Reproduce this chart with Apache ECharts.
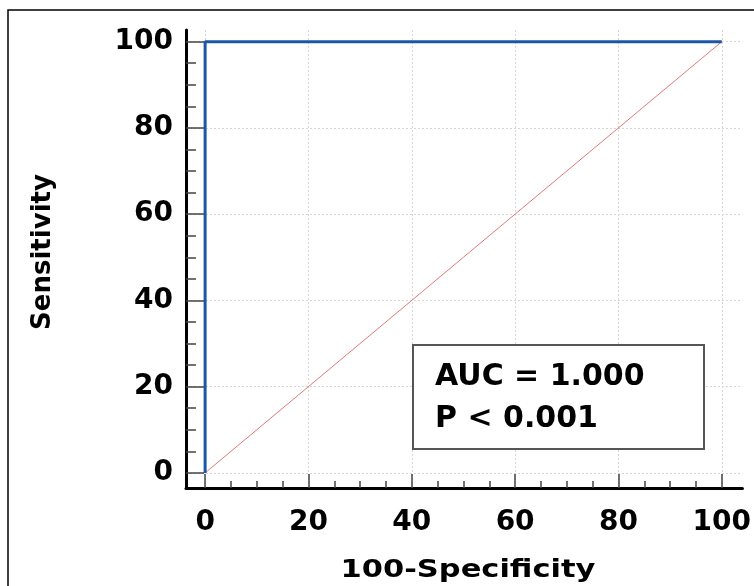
<!DOCTYPE html>
<html>
<head>
<meta charset="utf-8">
<script src="https://cdn.jsdelivr.net/npm/echarts@6/dist/echarts.min.js"></script>
<style>
html,body{margin:0;padding:0;background:#fff;}
#chart{width:754px;height:586px;}
</style>
</head>
<body>
<div id="chart"></div>
<script>
// ROC curve data (100-Specificity, Sensitivity)
const rocX = [0, 0, 100];
const rocY = [0, 100, 100];
// Reference diagonal
const diagX = [0, 100];
const diagY = [0, 100];
// Tick values
const xMajorTicks = [0, 20, 40, 60, 80, 100];
const yMajorTicks = [0, 20, 40, 60, 80, 100];
const xMinorTicks = [5, 10, 15, 25, 30, 35, 45, 50, 55, 65, 70, 75, 85, 90, 95];
const yMinorTicks = [5, 10, 15, 25, 30, 35, 45, 50, 55, 65, 70, 75, 85, 90, 95];
// Annotation text
const annotationLines = ['AUC = 1.000', 'P < 0.001'];
const xTitle = '100-Specificity';
const yTitle = 'Sensitivity';

const FONT = '"DejaVu Sans", "Liberation Sans", Arial, sans-serif';
const X_MIN = -3.7, X_MAX = 104;
const Y_MIN = -3.5, Y_MAX = 102.7;

const chart = echarts.init(document.getElementById('chart'), null, {renderer: 'canvas'});

function zip(a, b) { return a.map((v, i) => [v, b[i]]); }

const gridLine = {show: true, lineStyle: {color: '#d6d6d6', width: 1, type: [2, 2]}};

const option = {
  backgroundColor: '#fff',
  animation: false,
  grid: {left: 186, right: 8, top: 30, bottom: 98, containLabel: false},
  xAxis: [
    {
      type: 'value', min: X_MIN, max: X_MAX, position: 'bottom',
      axisLine: {show: true, onZero: false, lineStyle: {color: '#000', width: 3}},
      axisTick: {show: true, inside: true, length: 14, customValues: xMajorTicks,
                 lineStyle: {color: '#444', width: 1.5}},
      axisLabel: {show: true, customValues: xMajorTicks, margin: 21,
                  fontFamily: FONT, fontWeight: 'bold', fontSize: 28, color: '#000'},
      splitLine: gridLine,
      minorTick: {show: false}
    },
    {
      type: 'value', min: X_MIN, max: X_MAX, position: 'bottom',
      axisLine: {show: false, onZero: false},
      axisTick: {show: true, inside: true, length: 7, customValues: xMinorTicks,
                 lineStyle: {color: '#444', width: 1.5}},
      axisLabel: {show: false},
      splitLine: {show: false}
    }
  ],
  yAxis: [
    {
      type: 'value', min: Y_MIN, max: Y_MAX, position: 'left',
      axisLine: {show: true, onZero: false, lineStyle: {color: '#000', width: 3}},
      axisTick: {show: true, inside: true, length: 18, customValues: yMajorTicks,
                 lineStyle: {color: '#444', width: 1.5}},
      axisLabel: {show: true, customValues: yMajorTicks, margin: 13,
                  fontFamily: FONT, fontWeight: 'bold', fontSize: 28, color: '#000'},
      splitLine: gridLine
    },
    {
      type: 'value', min: Y_MIN, max: Y_MAX, position: 'left',
      axisLine: {show: false, onZero: false},
      axisTick: {show: true, inside: true, length: 10, customValues: yMinorTicks,
                 lineStyle: {color: '#444', width: 1.5}},
      axisLabel: {show: false},
      splitLine: {show: false}
    }
  ],
  series: [
    {
      type: 'line', name: 'Reference', data: zip(diagX, diagY),
      xAxisIndex: 0, yAxisIndex: 0, symbol: 'none', z: 3,
      lineStyle: {color: '#dc6a6a', width: 1, opacity: 0.9}
    },
    {
      type: 'line', name: 'ROC', data: zip(rocX, rocY),
      xAxisIndex: 0, yAxisIndex: 0, symbol: 'none', z: 4,
      lineStyle: {color: '#1c57a5', width: 3}
    }
  ],
  graphic: [
    {type: 'rect', z: 100, silent: true,
     shape: {x: 8, y: 10, width: 900, height: 900},
     style: {fill: 'none', stroke: '#000', lineWidth: 1.5}},
    {type: 'rect', z: 101, silent: true,
     shape: {x: 413, y: 345, width: 291, height: 104},
     style: {fill: '#fff', stroke: '#555', lineWidth: 2}},
    {type: 'text', z: 102, silent: true, x: 435, y: 377,
     style: {text: annotationLines[0], fill: '#000', font: 'bold 30px ' + FONT,
             textAlign: 'left', textVerticalAlign: 'middle'}},
    {type: 'text', z: 102, silent: true, x: 435, y: 419,
     style: {text: annotationLines[1], fill: '#000', font: 'bold 30px ' + FONT,
             textAlign: 'left', textVerticalAlign: 'middle'}},
    {type: 'text', z: 102, silent: true, x: 468, y: 570, scaleX: 1.22,
     style: {text: xTitle, fill: '#000', font: 'bold 25px ' + FONT,
             textAlign: 'center', textVerticalAlign: 'middle'}},
    {type: 'text', z: 102, silent: true, x: 43, y: 252, rotation: Math.PI / 2,
     style: {text: yTitle, fill: '#000', font: 'bold 26px ' + FONT,
             textAlign: 'center', textVerticalAlign: 'middle'}}
  ]
};
chart.setOption(option);
</script>
</body>
</html>
